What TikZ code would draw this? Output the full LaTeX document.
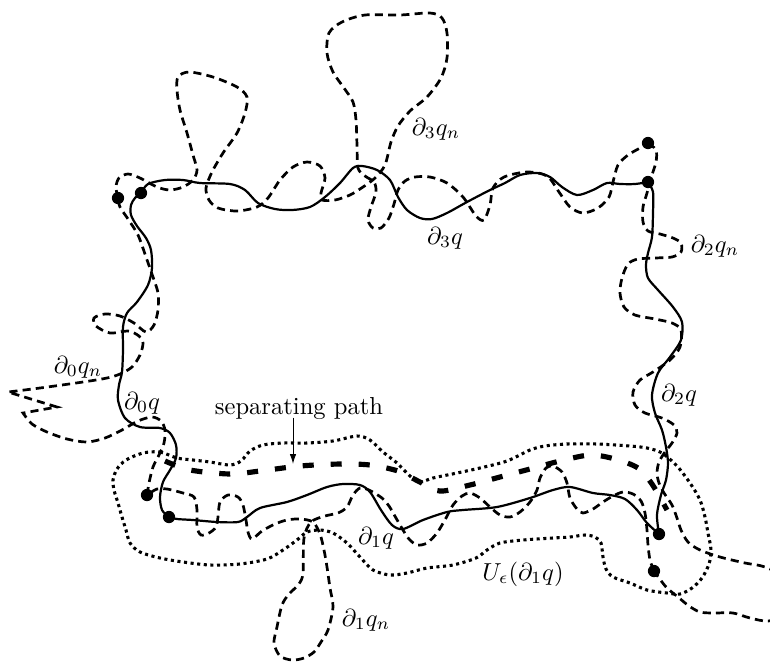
\documentclass[tikz,border=0pt]{standalone}
\usetikzlibrary{arrows.meta}
\begin{document}
\begin{tikzpicture}[x=0.407pt,y=-0.407pt,
  qline/.style={line width=0.9pt, line join=round},
  qnline/.style={line width=1.1pt, dash pattern=on 3.3pt off 2.1pt},
  seppath/.style={line width=2.1pt, dash pattern=on 4.5pt off 6.9pt},
  nbhd/.style={line width=1.25pt, dash pattern=on 1.25pt off 1.45pt},
  dot/.style={circle, fill=black, inner sep=0pt, minimum size=5pt},
  lbl/.style={inner sep=0pt}
]
\useasboundingbox (0,0) rectangle (770,662);
\clip (0,0) rectangle (770,662);

% corner points of q
\node[dot] (qTL) at (141,193) {};
\node[dot] (qTR) at (648,182) {};
\node[dot] (qBR) at (659,534) {};
\node[dot] (qBL) at (169,517) {};
% corner points of q_n
\node[dot] (nTL) at (118,198) {};
\node[dot] (nTR) at (648,143) {};
\node[dot] (nBR) at (654,571) {};
\node[dot] (nBL) at (147,495) {};

% ---- solid boundary of q ----
\draw[qline] plot[smooth] coordinates {(qTL.center) (148,184) (165,180) (183,180) (200,183) (230,184) (245,190) (258,203) (275,209) (292,210) (310,207) (325,197) (340,183) (353,168) (362,166) (377,170) (390,180) (398,197) (407,210) (420,218) (432,219) (447,213) (467,202) (490,190) (505,183) (520,175) (537,173) (550,177) (562,187) (577,195) (593,190) (607,183) (620,184) (635,184) (qTR.center)};
\draw[qline] plot[smooth] coordinates {(qTR.center) (653,192) (653,213) (652,237) (648,253) (646,265) (648,278) (658,290) (673,307) (682,322) (681,340) (670,357) (658,373) (652,395) (655,413) (662,430) (666,447) (668,463) (666,480) (661,495) (657,515) (qBR.center)};
\draw[qline] plot[smooth] coordinates {(qBR.center) (647,523) (637,510) (625,499) (610,495) (593,493) (570,487) (553,490) (530,498) (497,507) (463,510) (447,512) (423,520) (403,529) (392,525) (381,510) (370,492) (360,485) (343,484) (327,487) (307,495) (287,502) (260,508) (247,517) (238,522) (217,522) (193,520) (177,519) (qBL.center)};
\draw[qline] plot[smooth] coordinates {(qBL.center) (162,510) (160,497) (163,482) (170,470) (176,458) (176,445) (170,433) (160,428) (140,427) (125,418) (118,400) (119,385) (122,372) (123,350) (123,327) (127,313) (137,302) (148,285) (152,268) (151,250) (146,238) (137,226) (131,215) (131,205) (135,198) (qTL.center)};

% ---- dashed boundary of q_n ----
\draw[qnline] plot[smooth] coordinates {(nTL.center) (116,187) (119,178) (128,174) (140,178) (157,187) (170,190) (183,187) (193,180) (197,170) (193,155) (187,133) (180,110) (177,90) (178,77) (189,72) (213,77) (237,87) (247,97) (245,113) (237,133) (223,153) (212,172) (206,188) (209,200) (218,208) (237,211) (257,207) (268,198) (280,180) (293,167) (307,162) (320,166) (325,178) (321,193) (322,200) (335,200) (350,195) (363,187) (375,178) (385,165) (391,142) (398,126) (410,111) (427,97) (441,78) (447,58) (447,33) (442,18) (430,13) (400,15) (365,15) (342,22) (329,33) (327,53) (333,72) (344,88) (353,102) (356,120) (357,145) (358,168) (365,176) (374,182) (376,192) (371,207) (368,220) (373,228) (381,228) (389,218) (394,204) (398,190) (405,181) (415,177) (430,177) (447,183) (463,197) (476,216) (484,220) (490,205) (493,188) (504,177) (527,172) (547,176) (559,192) (570,207) (583,213) (598,208) (609,197) (613,182) (618,165) (628,155) (640,148) (nTR.center)};
\draw[qnline] plot[smooth] coordinates {(nTR.center) (656,150) (656,162) (651,178) (647,193) (643,207) (643,222) (648,231) (660,234) (673,238) (681,243) (681,252) (672,257) (655,258) (638,259) (628,264) (622,278) (620,293) (624,307) (635,315) (655,319) (672,323) (681,330) (680,347) (670,360) (653,372) (640,380) (633,392) (635,405) (645,413) (662,418) (674,425) (677,433) (672,443) (665,452) (659,462) (657,473) (659,483) (664,493) (672,505) (677,518) (681,530) (688,542) (700,550) (720,557) (745,563) (765,567) (790,580) (800,600) (790,615) (768,621) (750,618) (733,613) (713,613) (700,612) (689,606) (678,597) (667,588) (659,578) (nBR.center)};
\draw[qnline] plot[smooth] coordinates {(nBR.center) (650,560) (648,545) (647,530) (645,513) (641,501) (633,494) (623,492) (613,496) (603,502) (593,509) (583,513) (577,509) (570,498) (567,483) (562,472) (553,466) (546,468) (540,478) (537,490) (530,502) (520,512) (510,517) (500,515) (490,507) (480,498) (470,493) (462,496) (453,505) (446,518) (437,533) (427,543) (417,545) (409,539) (403,530) (396,518) (389,506) (382,498) (369,490) (360,488) (353,495) (347,507) (338,513) (325,516) (311,522) (304,538) (303,573) (299,584) (289,594) (282,605) (277,627) (274,643) (280,656) (292,660) (304,658) (314,652) (321,642) (328,630) (333,607) (330,588) (327,567) (324,550) (320,534) (313,522) (300,519) (287,520) (275,524) (262,531) (252,539) (248,532) (246,520) (243,505) (238,497) (228,495) (220,502) (218,517) (216,527) (209,533) (201,535) (197,527) (197,510) (194,497) (183,493) (167,489) (157,489) (nBL.center)};
\draw[qnline] plot[smooth] coordinates {(nBL.center) (149,483) (153,467) (159,455) (164,443) (165,430) (161,421) (152,417) (138,421) (122,430) (105,438) (87,442) (67,439) (47,432) (32,424) (23,413)}
  -- (57,407) -- (8,392)
  -- plot[smooth] coordinates {(8,392) (40,388) (83,382) (107,378) (120,374) (132,367) (140,355) (143,343) (139,336) (128,331) (110,333) (96,326) (94,318) (105,314) (120,316) (134,323) (146,332) (154,325) (158,310) (158,293) (153,277) (146,257) (138,235) (128,219) (120,207) (nTL.center)};

% ---- separating path ----
\draw[seppath] plot[smooth] coordinates {(165,461) (190,470) (230,474) (260,471) (300,466) (340,464) (370,465) (398,471) (418,481) (440,491) (470,485) (500,477) (530,469) (560,461) (590,455) (615,459) (638,468) (652,484) (667,510)};

% ---- epsilon-neighbourhood ----
\draw[nbhd] plot[smooth cycle] coordinates {(143,453) (160,452) (177,458) (193,460) (210,462) (230,465) (241,461) (250,451) (263,445) (283,443) (307,443) (333,441) (357,436) (370,440) (383,452) (397,463) (410,476) (420,482) (433,478) (457,473) (480,468) (507,461) (530,450) (545,446) (567,444) (597,444) (630,446) (647,448) (662,453) (677,466) (690,483) (700,500) (705,517) (708,533) (711,550) (709,564) (702,578) (692,588) (680,594) (667,593) (647,590) (630,583) (613,577) (606,569) (603,557) (601,543) (595,537) (585,535) (570,537) (553,538) (523,540) (500,543) (487,550) (476,558) (453,565) (427,568) (407,573) (390,575) (373,570) (360,557) (347,543) (333,533) (320,530) (307,532) (297,540) (283,550) (267,559) (240,564) (210,565) (183,562) (160,558) (140,552) (130,543) (126,530) (122,517) (118,503) (114,490) (113,480) (117,469) (126,460)};

% ---- labels ----
\node[lbl] (l3n) at (436,129) {$\partial_3 q_n$};
\node[lbl] (l3)  at (445,238) {$\partial_3 q$};
\node[lbl] (l2n) at (715,246) {$\partial_2 q_n$};
\node[lbl] (l2)  at (679,395) {$\partial_2 q$};
\node[lbl] (l0n) at (78,367) {$\partial_0 q_n$};
\node[lbl] (l0)  at (142,403) {$\partial_0 q$};
\node[lbl] (l1)  at (376,538) {$\partial_1 q$};
\node[lbl] (l1n) at (366,620) {$\partial_1 q_n$};
\node[lbl] (lU)  at (523,574) {$U_\epsilon(\partial_1 q)$};
\node[lbl] (sep) at (299,408) {separating path};
\coordinate (septip) at (293,464);
\draw[line width=0.4pt, -{Latex[length=4pt,width=2.6pt]}] (sep.south -| septip) ++(0,-2) -- (septip);
\end{tikzpicture}
\end{document}
